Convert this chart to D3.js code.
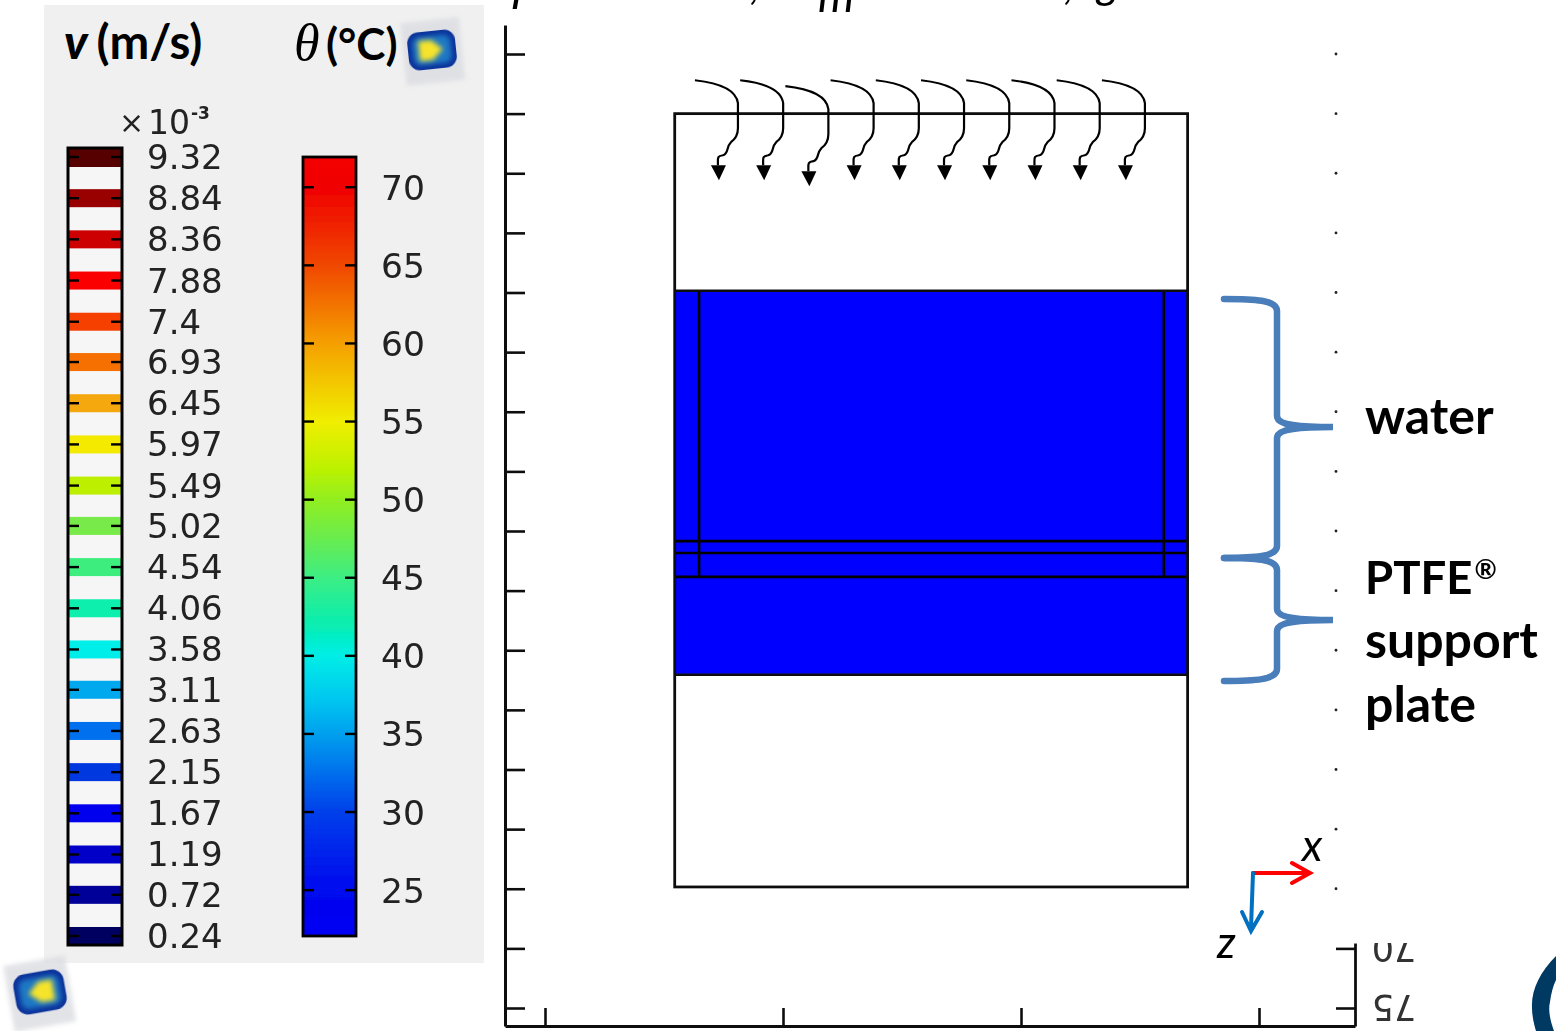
<!DOCTYPE html>
<html><head><meta charset="utf-8">
<style>html,body{margin:0;padding:0;background:#fff;overflow:hidden}svg{display:block}</style>
<script src="https://cdnjs.cloudflare.com/ajax/libs/d3/7.8.5/d3.min.js"></script>
</head><body><div id="c"></div>
<script>
// ---- data ----
const speedLevels=[9.32,8.84,8.36,7.88,7.4,6.93,6.45,5.97,5.49,5.02,4.54,4.06,3.58,3.11,2.63,2.15,1.67,1.19,0.72,0.24];
const speedColors=["#560000","#990000","#cc0000","#fb0000","#f54000","#f57000","#f5a80f","#f3ea00","#bdf000","#78ea48","#3eee7e","#0cefac","#00eeea","#00a8ee","#0070ee","#0038e0","#0000ee","#0000c8","#000098","#000060"];
const tempTicks=[70,65,60,55,50,45,40,35,30,25];
const tempDomain=[22,72];
const tempStops=[72,70,65,60,55,52,50,47,45,42,40,37,35,30,25,22];
const tempColors=["#f40000","#f00000","#f04800","#f5a000","#f0ee00","#bcf200","#92ee20","#60ec58","#3cee84","#08eeb0","#00eee6","#00c4f0","#00a0ee","#0040ea","#0008ee","#0000f4"];
const axisYTicks=[-5,0,5,10,15,20,25,30,35,40,45,50,55,60,65,70,75];
const axisXTicks=[0,20,40,60];
const rightLabels=[70,75];
const boxX=[10.9,54];
const boxY=[0,64.85];
const blueY=[14.85,47.05];
const innerH=[35.85,36.85,38.85];
const innerV=[12.95,52];
const arrowX=[12.6,16.4,20.2,24,27.8,31.6,35.4,39.2,43,46.8];
const arrowY=[-2.8,-2.8,-2.3,-2.8,-2.8,-2.8,-2.8,-2.8,-2.8,-2.8];
const braces=[{top:15.54,tip:26.28,bot:37.26},{top:37.26,tip:42.46,bot:47.58}];

// ---- scales ----
const W=1556,H=1031;
const svg=d3.select("#c").append("svg").attr("width",W).attr("height",H).attr("viewBox",`0 0 ${W} ${H}`);
const defs=svg.append("defs");
const x=d3.scaleLinear().domain([0,60]).range([545,1259]);
const y=d3.scaleLinear().domain([-5,75]).range([54,1008]);
const vY=d3.scaleLinear().domain([0.24,9.32]).range([936,157]);
const tY=d3.scaleLinear().domain(tempDomain).range([937,156]);

defs.append("filter").attr("id","soft").append("feGaussianBlur").attr("stdDeviation",0.55);
defs.append("filter").attr("id","soft2").attr("x","-20%").attr("y","-20%").attr("width","140%").attr("height","140%").append("feGaussianBlur").attr("stdDeviation",2);
defs.append("filter").attr("id","soft3").attr("x","-30%").attr("y","-30%").attr("width","160%").attr("height","160%").append("feGaussianBlur").attr("stdDeviation",2.4);
const grad=defs.append("linearGradient").attr("id","tempGrad").attr("x1",0).attr("x2",0).attr("y1",0).attr("y2",1);
tempStops.forEach((t,i)=>grad.append("stop").attr("offset",(tY(t)-156)/(937-156)).attr("stop-color",tempColors[i]));
defs.append("clipPath").attr("id","rightClip").append("rect").attr("x",1360).attr("y",943).attr("width",70).attr("height",88);

const LATO="Lato, 'Open Sans', sans-serif", DJ="'DejaVu Sans', sans-serif";

// ---- legend panel ----
svg.append("rect").attr("x",44).attr("y",5).attr("width",440).attr("height",958).attr("fill","#f0f0f0");
const legend=svg.append("g").attr("filter","url(#soft)");

legend.append("rect").attr("x",69).attr("y",149).attr("width",52).attr("height",795).attr("fill","#f6f6f6");
legend.selectAll("rect.band").data(speedLevels).join("rect").attr("class","band")
 .attr("x",69).attr("width",52).attr("y",d=>Math.max(149,vY(d)-9)).attr("height",18).attr("fill",(d,i)=>speedColors[i]);
legend.append("rect").attr("x",68).attr("y",148).attr("width",54).attr("height",797).attr("fill","none").attr("stroke","#000").attr("stroke-width",3);
const speedTicks=legend.append("g");
speedLevels.forEach(v=>{
 speedTicks.append("line").attr("x1",68).attr("x2",79).attr("y1",vY(v)).attr("y2",vY(v)).attr("stroke","#000").attr("stroke-width",2.4);
 speedTicks.append("line").attr("x1",111).attr("x2",122).attr("y1",vY(v)).attr("y2",vY(v)).attr("stroke","#000").attr("stroke-width",2.4);
});
legend.selectAll("text.vl").data(speedLevels).join("text").attr("class","vl")
 .attr("x",147).attr("y",d=>vY(d)+12).attr("font-family",DJ).attr("font-size",34).attr("fill","#222").text(d=>d);

legend.append("rect").attr("x",303).attr("y",157).attr("width",53).attr("height",779).attr("fill","url(#tempGrad)").attr("stroke","#000").attr("stroke-width",2.8);
tempTicks.forEach(t=>{
 legend.append("line").attr("x1",303).attr("x2",314).attr("y1",tY(t)).attr("y2",tY(t)).attr("stroke","#000").attr("stroke-width",2.4);
 legend.append("line").attr("x1",345).attr("x2",356).attr("y1",tY(t)).attr("y2",tY(t)).attr("stroke","#000").attr("stroke-width",2.4);
});
legend.selectAll("text.tl").data(tempTicks).join("text").attr("class","tl")
 .attr("x",381).attr("y",d=>tY(d)+12.5).attr("font-family",DJ).attr("font-size",34.5).attr("fill","#222").text(d=>d);

legend.append("text").attr("x",119).attr("y",133).attr("font-family",DJ).attr("font-size",30).attr("fill","#222").text("×");
legend.append("text").attr("x",148).attr("y",134).attr("font-family",DJ).attr("font-size",33).attr("fill","#222").text("10");
legend.append("text").attr("x",191).attr("y",119).attr("font-family",DJ).attr("font-size",17).attr("font-weight",700).attr("fill","#222").text("-3");

// headings
const h1=svg.append("text").attr("x",64).attr("y",59).attr("font-family",LATO).attr("font-size",47.5).attr("font-weight",700).attr("fill","#000");
h1.append("tspan").attr("font-style","italic").attr("font-weight",900).text("v");
h1.append("tspan").attr("dx",9).text("(m/s)");
svg.append("text").attr("x",294).attr("y",60).attr("font-family","'Liberation Serif', serif").attr("font-style","italic").attr("font-size",52).attr("fill","#000").text("θ");
svg.append("text").attr("x",326).attr("y",60).attr("font-family",LATO).attr("font-size",44).attr("font-weight",700).attr("fill","#000").text("(°C)");

// small monitor icons
function icon(cx,cy,rot,flip,s){
 const g=svg.append("g").attr("transform",`translate(${cx},${cy}) rotate(${rot}) scale(${flip?-s:s},${s})`);
 g.append("rect").attr("x",-29).attr("y",-30).attr("width",59).attr("height",63).attr("fill","#dcdde2").attr("opacity",.8).attr("filter","url(#soft2)");
 g.append("rect").attr("x",-24).attr("y",-19).attr("width",48).attr("height",38).attr("rx",11).attr("fill","#08309a").attr("filter","url(#soft)");
 g.append("rect").attr("x",-19).attr("y",-14).attr("width",38).attr("height",28).attr("rx",7).attr("fill","#1a78c4").attr("filter","url(#soft3)");
 g.append("path").attr("d","M-13,-10 L0,-10 L11,0 L0,10 L-13,10 Z").attr("fill","#f6e42c").attr("filter","url(#soft3)");
}
icon(432,50,-6,false,1);
icon(40,992,-10,true,1.06);

// ---- plot ----
const plot=svg.append("g").attr("filter","url(#soft)");
const bx=x(boxX[0]),bw=x(boxX[1])-x(boxX[0]);
plot.append("rect").attr("x",bx).attr("y",y(boxY[0])).attr("width",bw).attr("height",y(boxY[1])-y(boxY[0])).attr("fill","#fff");
plot.append("rect").attr("x",bx).attr("y",y(blueY[0])).attr("width",bw).attr("height",y(blueY[1])-y(blueY[0])).attr("fill","#0000ff");
plot.selectAll("line.ih").data(innerH).join("line").attr("class","ih")
 .attr("x1",bx).attr("x2",bx+bw).attr("y1",d=>y(d)).attr("y2",d=>y(d)).attr("stroke","#000").attr("stroke-width",2.6);
plot.selectAll("line.iv").data(innerV).join("line").attr("class","iv")
 .attr("x1",d=>x(d)).attr("x2",d=>x(d)).attr("y1",y(blueY[0])).attr("y2",y(innerH[2])).attr("stroke","#000").attr("stroke-width",2.6);
plot.selectAll("line.bl").data(blueY).join("line").attr("class","bl")
 .attr("x1",bx).attr("x2",bx+bw).attr("y1",d=>y(d)).attr("y2",d=>y(d)).attr("stroke","#111").attr("stroke-width",2.6);
plot.append("rect").attr("x",bx).attr("y",y(boxY[0])).attr("width",bw).attr("height",y(boxY[1])-y(boxY[0])).attr("fill","none").attr("stroke","#111").attr("stroke-width",2.8);

// axes
const yA=y.copy().domain([y.invert(25),y.invert(1026)]).range([25,1026]);
const xA=x.copy().domain([x.invert(505),x.invert(1355)]).range([505,1355]);
function styleAxis(g,w){g.selectAll("path.domain").attr("stroke","#111").attr("stroke-width",w);g.selectAll(".tick line").attr("stroke","#111").attr("stroke-width",2.6);g.selectAll(".tick text").remove();}
plot.append("g").attr("transform","translate(505,0)").call(d3.axisRight(yA).tickValues(axisYTicks).tickSize(20).tickSizeOuter(0).tickFormat("")).call(styleAxis,3);
plot.append("g").attr("transform","translate(0,1026)").call(d3.axisTop(xA).tickValues(axisXTicks).tickSize(18).tickSizeOuter(0).tickFormat("")).call(styleAxis,3);
const yRight=y.copy().domain([y.invert(943),y.invert(1026)]).range([943,1026]);
plot.append("g").attr("transform","translate(1355,0)").call(d3.axisLeft(yRight).tickValues(rightLabels).tickSize(19).tickSizeOuter(0).tickFormat("")).call(styleAxis,2.8);
plot.selectAll("circle.dot").data(axisYTicks.filter(v=>y(v)<900)).join("circle").attr("class","dot")
 .attr("cx",1336).attr("cy",d=>y(d)).attr("r",1.4).attr("fill","#222");

svg.append("g").attr("clip-path","url(#rightClip)").attr("filter","url(#soft)").selectAll("text").data(rightLabels).join("text")
 .attr("transform",d=>`translate(1394,${y(d)}) rotate(180)`).attr("text-anchor","middle").attr("dy","0.36em")
 .attr("font-family",DJ).attr("font-size",35).attr("fill","#333").text(d=>d);

// inflow arrows
const arrows=svg.append("g");
arrowX.forEach((ax,i)=>{
 const p=d3.path(),X=x(ax),oy=y(arrowY[i])+23;
 p.moveTo(X,oy-23);
 p.bezierCurveTo(X+18,oy-21,X+41,oy-16,X+43,oy);
 p.lineTo(X+43,oy+25);
 p.bezierCurveTo(X+43,oy+32,X+40,oy+36,X+36,oy+39);
 p.bezierCurveTo(X+31,oy+44,X+34,oy+50,X+28,oy+52);
 p.bezierCurveTo(X+22,oy+53,X+23,oy+54,X+23,oy+62);
 arrows.append("path").attr("d",p.toString()).attr("fill","none").attr("stroke","#000").attr("stroke-width",2.2);
 const t=d3.path();
 t.moveTo(X+16,oy+62);t.lineTo(X+31,oy+62);t.lineTo(X+24,oy+77);t.closePath();
 arrows.append("path").attr("d",t.toString()).attr("fill","#000");
});

// braces
function bracePath(b){
 const xe=1224,xm=1277,xt=1333,t=y(b.top),m=y(b.tip),e=y(b.bot),p=d3.path();
 p.moveTo(xe,t);
 p.bezierCurveTo(xe+30,t,xm,t+1,xm,t+12);
 p.lineTo(xm,m-11);
 p.bezierCurveTo(xm,m-2,xm+20,m,xt,m);
 p.bezierCurveTo(xm+20,m,xm,m+2,xm,m+11);
 p.lineTo(xm,e-12);
 p.bezierCurveTo(xm,e-1,xe+30,e,xe,e);
 return p.toString();
}
svg.selectAll("path.brace").data(braces).join("path").attr("class","brace").attr("d",bracePath)
 .attr("fill","none").attr("stroke","#4a7ebb").attr("stroke-width",6.5).attr("stroke-linecap","round");

// side labels
function sideLabel(s,yy,z){return svg.append("text").attr("x",1365).attr("y",yy).attr("font-family",LATO).attr("font-weight",700).attr("font-size",z).attr("fill","#000").text(s);}
sideLabel("water",434,50);
const ptfe=sideLabel("PTFE",594,45.5);
ptfe.append("tspan").attr("font-size",27).attr("dx",2).attr("dy",-15).text("®");
sideLabel("support",658,50);
sideLabel("plate",722,50);

// coordinate triad
const tri=svg.append("g").attr("fill","none").attr("stroke-width",4).attr("stroke-linecap","round").attr("stroke-linejoin","miter");
tri.append("path").attr("d","M1253,873 L1308,873 M1292,863 L1310,873 L1292,883").attr("stroke","#ff0000");
tri.append("path").attr("d","M1253,873 L1251,928 M1242,912 L1251,931 L1262,912").attr("stroke","#0070c0");
svg.append("text").attr("x",1302).attr("y",861).attr("font-family",LATO).attr("font-style","italic").attr("font-size",44).attr("fill","#000").text("x");
svg.append("text").attr("x",1217).attr("y",958).attr("font-family",LATO).attr("font-style","italic").attr("font-size",44).attr("fill","#000").text("z");

// cropped equation remnants along the top edge
const crop=[{s:"f",x:512,y:-2,f:"'Liberation Serif', serif",z:52},{s:",",x:750,y:-1,f:LATO,z:44},{s:"m",x:818,y:12,f:LATO,z:46},{s:",",x:1064,y:-1,f:LATO,z:44},{s:"g",x:1097,y:-2,f:LATO,z:44}];
svg.selectAll("text.crop").data(crop).join("text").attr("class","crop").attr("x",d=>d.x).attr("y",d=>d.y).attr("font-family",d=>d.f).attr("font-size",d=>d.z).attr("font-style","italic").attr("fill","#000").text(d=>d.s);

// cropped logo, bottom-right corner
svg.append("path").attr("d","M1556,956 C1540,972 1531,990 1532,1008 C1532,1016 1534,1024 1536,1031 L1554,1031 C1550,1020 1548,1010 1550,1002 C1551,994 1553,986 1556,980 Z").attr("fill","#003a63");
</script></body></html>
